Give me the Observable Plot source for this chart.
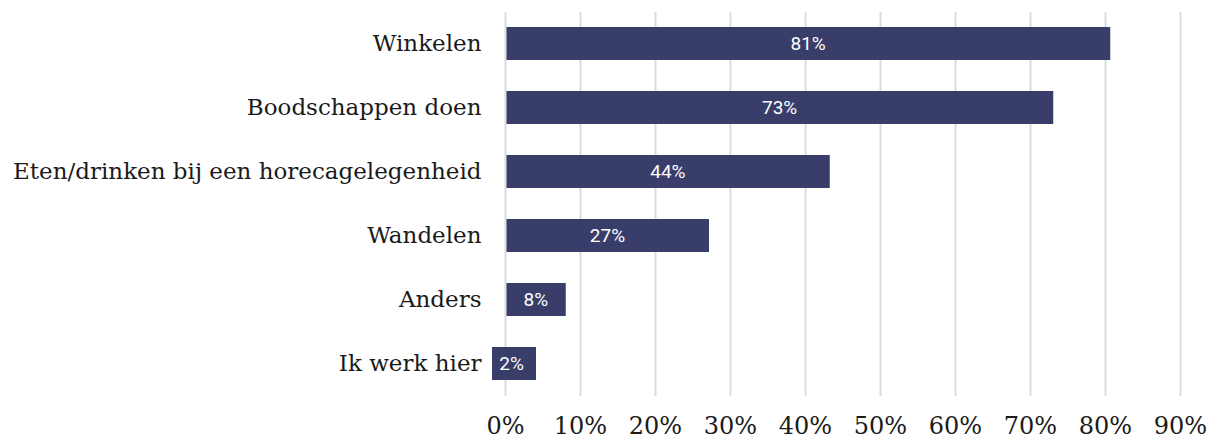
<!DOCTYPE html>
<html>
<head>
<meta charset="utf-8">
<script src="https://cdn.jsdelivr.net/npm/d3@7"></script>
<script src="https://cdn.jsdelivr.net/npm/@observablehq/plot@0.6"></script>
<style>
  html, body { margin: 0; padding: 0; background: #fff; }
  #chart svg { display: block; }
</style>
</head>
<body>
<div id="chart"></div>
<script>
const categories = ["Winkelen", "Boodschappen doen", "Eten/drinken bij een horecagelegenheid", "Wandelen", "Anders", "Ik werk hier"];
const values = [80.7, 73.1, 43.3, 27.2, 8.1, 2.0];
const valueLabels = ["81%", "73%", "44%", "27%", "8%", "2%"];
const xTicks = [0, 10, 20, 30, 40, 50, 60, 70, 80, 90];

const data = categories.map((c, i) => ({category: c, value: values[i], label: valueLabels[i]}));
const smallLimit = 5;
const navy = "#393d69";

const chart = Plot.plot({
  width: 1210,
  height: 439,
  marginTop: 12,
  marginBottom: 43,
  marginLeft: 505,
  marginRight: 30,
  style: {background: "#fff"},
  x: {domain: [0, 90], ticks: xTicks, tickFormat: d => d + "%"},
  y: {domain: categories, paddingInner: 0.48, paddingOuter: 0.24, label: null},
  marks: [
    Plot.ruleX(xTicks, {stroke: "#dcdcdc", strokeWidth: 2}),
    Plot.barX(data.filter(d => d.value >= smallLimit), {x: "value", y: "category", fill: navy, insetLeft: 1.5}),
    Plot.barX(data.filter(d => d.value < smallLimit), {x: "value", y: "category", fill: navy, insetLeft: -13, insetRight: -16}),
    Plot.text(data.filter(d => d.value >= smallLimit), {x: d => d.value / 2, y: "category", text: "label", fill: "#fff", fontSize: 19, fontFamily: "Roboto"}),
    Plot.text(data.filter(d => d.value < smallLimit), {x: d => d.value / 2, y: "category", text: "label", fill: "#fff", fontSize: 19, fontFamily: "Roboto", dx: -1.5}),
    Plot.axisY({tickSize: 0, tickPadding: 24, fontSize: 23, fontFamily: "DejaVu Serif", label: null, color: "#1a1a1a"}),
    Plot.axisX({tickSize: 0, tickPadding: 20, fontSize: 24, fontFamily: "DejaVu Serif", label: null, color: "#1a1a1a", tickFormat: d => d + "%"})
  ]
});
document.getElementById("chart").appendChild(chart);
</script>
</body>
</html>
